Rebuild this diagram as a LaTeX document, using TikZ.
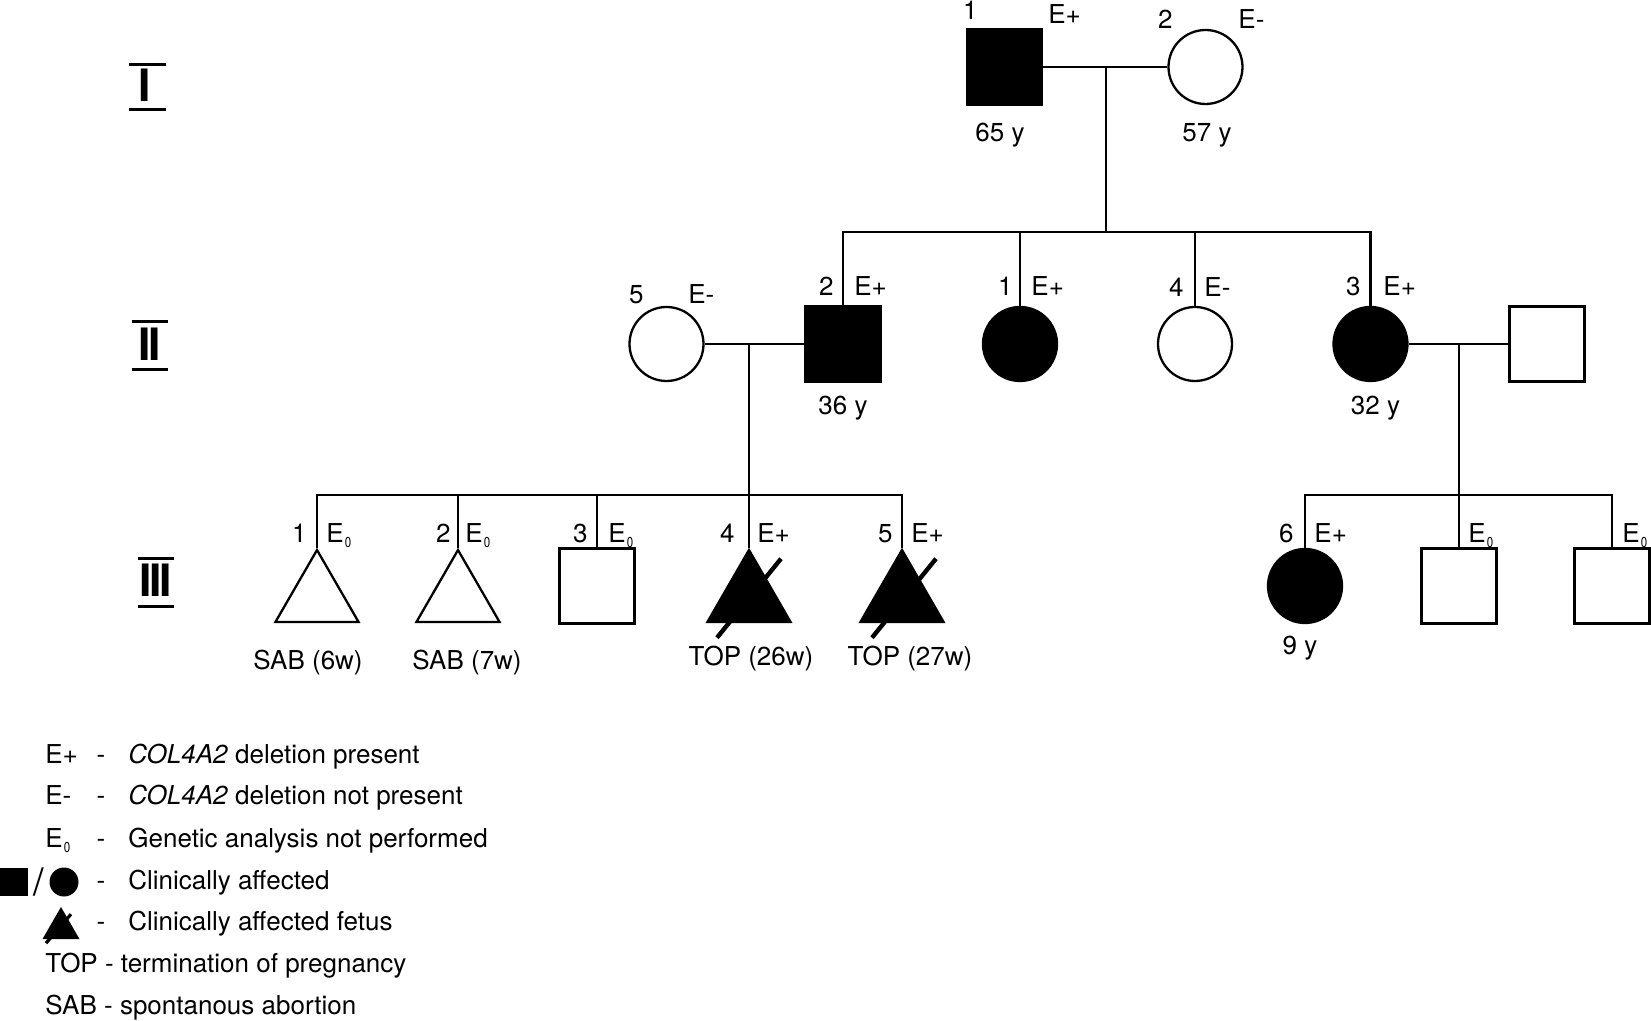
\documentclass[tikz,border=0pt]{standalone}
\usepackage{fontspec}
\setmainfont{TeX Gyre Heros}
\usetikzlibrary{shapes.geometric}
\newcommand{\Ezero}{E\kern0.6pt\raisebox{-2.5pt}{\scalebox{0.8}[1]{\fontsize{7.2}{7}\selectfont 0}}}
\begin{document}
\begin{tikzpicture}[x=0.5pt,y=-0.5pt,
  lw/.style={line width=1.1pt},
  sq/.style={rectangle, draw, line width=1.15pt, minimum size=37.5pt, inner sep=0pt},
  ci/.style={circle, draw, line width=1.15pt, minimum size=37pt, inner sep=0pt},
  tri/.style={regular polygon, regular polygon sides=3, draw, line width=1.15pt, minimum size=48pt, inner sep=0pt},
  aff/.style={fill=black},
  lbl/.style={inner sep=0pt, font=\fontsize{13}{15}\selectfont},
  num/.style={lbl, anchor=base east},
  gtype/.style={lbl, anchor=base west},
  agelbl/.style={lbl, anchor=base},
  slashline/.style={line width=2.2pt},
  gennum/.style={inner sep=0pt, font=\fontsize{22.3}{22}\selectfont\bfseries, anchor=base},
  genbar/.style={line width=1.5pt}
]
\useasboundingbox (0,0) rectangle (1651,1021);

% generation numerals
\node[gennum] (gI) at (145,102) {I};
\draw[genbar] (129,64.5) -- (166,64.5);
\draw[genbar] (129,109.5) -- (166,109.5);
\node[gennum] (gII) at (150,361) {I\kern-1.1ptI};
\draw[genbar] (132,321.5) -- (168,321.5);
\draw[genbar] (132,369.5) -- (168,369.5);
\node[gennum] (gIII) at (155.5,597) {I\kern-1.1ptI\kern-1.1ptI};
\draw[genbar] (138,558.5) -- (174,558.5);
\draw[genbar] (138,606.5) -- (174,606.5);

% generation I
\node[sq,aff] (I1) at (1004.5,67) {};
\node[ci] (I2) at (1205.5,67) {};
\node[num] (I1n) at (978,20) {1};
\node[gtype] (I1e) at (1048,24) {E+};
\node[num] (I2n) at (1173,29) {2};
\node[gtype] (I2e) at (1238,29) {E-};
\node[agelbl] (I1a) at (1000,142) {65 y};
\node[agelbl] (I2a) at (1207,142) {57 y};

% generation II
\node[ci] (II5) at (666.5,344) {};
\node[sq,aff] (II2) at (843,344) {};
\node[ci,aff] (II1) at (1020,344) {};
\node[ci] (II4) at (1195,344) {};
\node[ci,aff] (II3) at (1370.5,344) {};
\node[sq] (II6) at (1547,344) {};

\node[num] (II5n) at (644,304) {5};
\node[gtype] (II5e) at (688,304) {E-};
\node[num] (II2n) at (834,296) {2};
\node[gtype] (II2e) at (854,296) {E+};
\node[num] (II1n) at (1013,296) {1};
\node[gtype] (II1e) at (1031,296) {E+};
\node[num] (II4n) at (1184,297) {4};
\node[gtype] (II4e) at (1204,297) {E-};
\node[num] (II3n) at (1361,296) {3};
\node[gtype] (II3e) at (1383,296) {E+};
\node[agelbl] (II2a) at (843,415) {36 y};
\node[agelbl] (II3a) at (1375.5,415) {32 y};

% generation III
\node[tri] (T1) at (317,598) {};
\node[tri] (T2) at (458,598) {};
\node[sq] (III3) at (597,586) {};
\node[tri,aff] (T4) at (749,598) {};
\node[tri,aff] (T5) at (902,598) {};
\node[ci,aff] (III6) at (1305,586) {};
\node[sq] (III7) at (1459,586) {};
\node[sq] (III8) at (1612,586) {};

\draw[slashline] ([shift={(-32,90)}]T4.corner 1) -- ([shift={(32,11)}]T4.corner 1);
\draw[slashline] ([shift={(-30,90)}]T5.corner 1) -- ([shift={(34,11)}]T5.corner 1);

\node[num] (T1n) at (307,543) {1};
\node[gtype] (T1e) at (326,543) {\Ezero};
\node[num] (T2n) at (451,543) {2};
\node[gtype] (T2e) at (465,543) {\Ezero};
\node[num] (III3n) at (588,543) {3};
\node[gtype] (III3e) at (608,543) {\Ezero};
\node[num] (T4n) at (735,543) {4};
\node[gtype] (T4e) at (757,543) {E+};
\node[num] (T5n) at (893,543) {5};
\node[gtype] (T5e) at (911,543) {E+};
\node[num] (III6n) at (1294,543) {6};
\node[gtype] (III6e) at (1314,543) {E+};
\node[gtype] (III7e) at (1468,543) {\Ezero};
\node[gtype] (III8e) at (1622,543) {\Ezero};

\node[agelbl] (T1a) at (308,669) {SAB (6w)};
\node[agelbl] (T2a) at (467,669) {SAB (7w)};
\node[agelbl] (T4a) at (751,666) {TOP (26w)};
\node[agelbl] (T5a) at (910,666) {TOP (27w)};
\node[agelbl] (III6a) at (1300,655) {9 y};

% connectors
\draw[lw] (I1) -- (I2);
\coordinate (mI) at (1106,67);
\coordinate (sI) at (1106,232);
\draw[lw] (mI) -- (sI);
\draw[lw] (II2.north) |- (sI) -| (II3.north);
\draw[lw] (II1.north) -- (II1.north |- sI);
\draw[lw] (II4.north) -- (II4.north |- sI);

\draw[lw] (II5) -- (II2);
\coordinate (mII) at (749,344);
\coordinate (sII) at (749,495);
\draw[lw] (mII) -- (T4.corner 1);
\draw[lw] (T1.corner 1) |- (sII) -| (T5.corner 1);
\draw[lw] (T2.corner 1) -- (T2.corner 1 |- sII);
\draw[lw] (III3.north) -- (III3.north |- sII);

\draw[lw] (II3) -- (II6);
\coordinate (mII2) at (1459,344);
\coordinate (sII2) at (1459,495);
\draw[lw] (mII2) -- (III7.north);
\draw[lw] (III6.north) |- (sII2) -| (III8.north);

% legend
\node[gtype] (k1) at (45,763) {E+};
\node[agelbl] (k1d) at (101,763) {-};
\node[gtype] (k1t) at (128,763) {\textit{COL4A2} deletion present};
\node[gtype] (k2) at (45,805) {E-};
\node[agelbl] (k2d) at (101,805) {-};
\node[gtype] (k2t) at (128,805) {\textit{COL4A2} deletion not present};
\node[gtype] (k3) at (45,847) {\Ezero};
\node[agelbl] (k3d) at (101,847) {-};
\node[gtype] (k3t) at (128,847) {Genetic analysis not performed};
\node[rectangle, fill=black, minimum size=14pt, inner sep=0pt] (ksq) at (14,882) {};
\node[inner sep=0pt, anchor=base, font=\fontsize{19}{19}\selectfont] (kslash) at (38.5,895) {/};
\node[circle, fill=black, minimum size=14.5pt, inner sep=0pt] (kci) at (64,882) {};
\node[agelbl] (k4d) at (101,889) {-};
\node[gtype] (k4t) at (128,889) {Clinically affected};
\node[regular polygon, regular polygon sides=3, fill=black, minimum size=21.4pt, inner sep=0pt] (ktri) at (61,928.4) {};
\draw[line width=1.6pt] ([shift={(-15,37)}]ktri.corner 1) -- ([shift={(10,8)}]ktri.corner 1);
\node[agelbl] (k5d) at (101,930) {-};
\node[gtype] (k5t) at (128,930) {Clinically affected fetus};
\node[gtype] (k6) at (45,972) {TOP - termination of pregnancy};
\node[gtype] (k7) at (45,1014) {SAB - spontanous abortion};
\end{tikzpicture}
\end{document}
